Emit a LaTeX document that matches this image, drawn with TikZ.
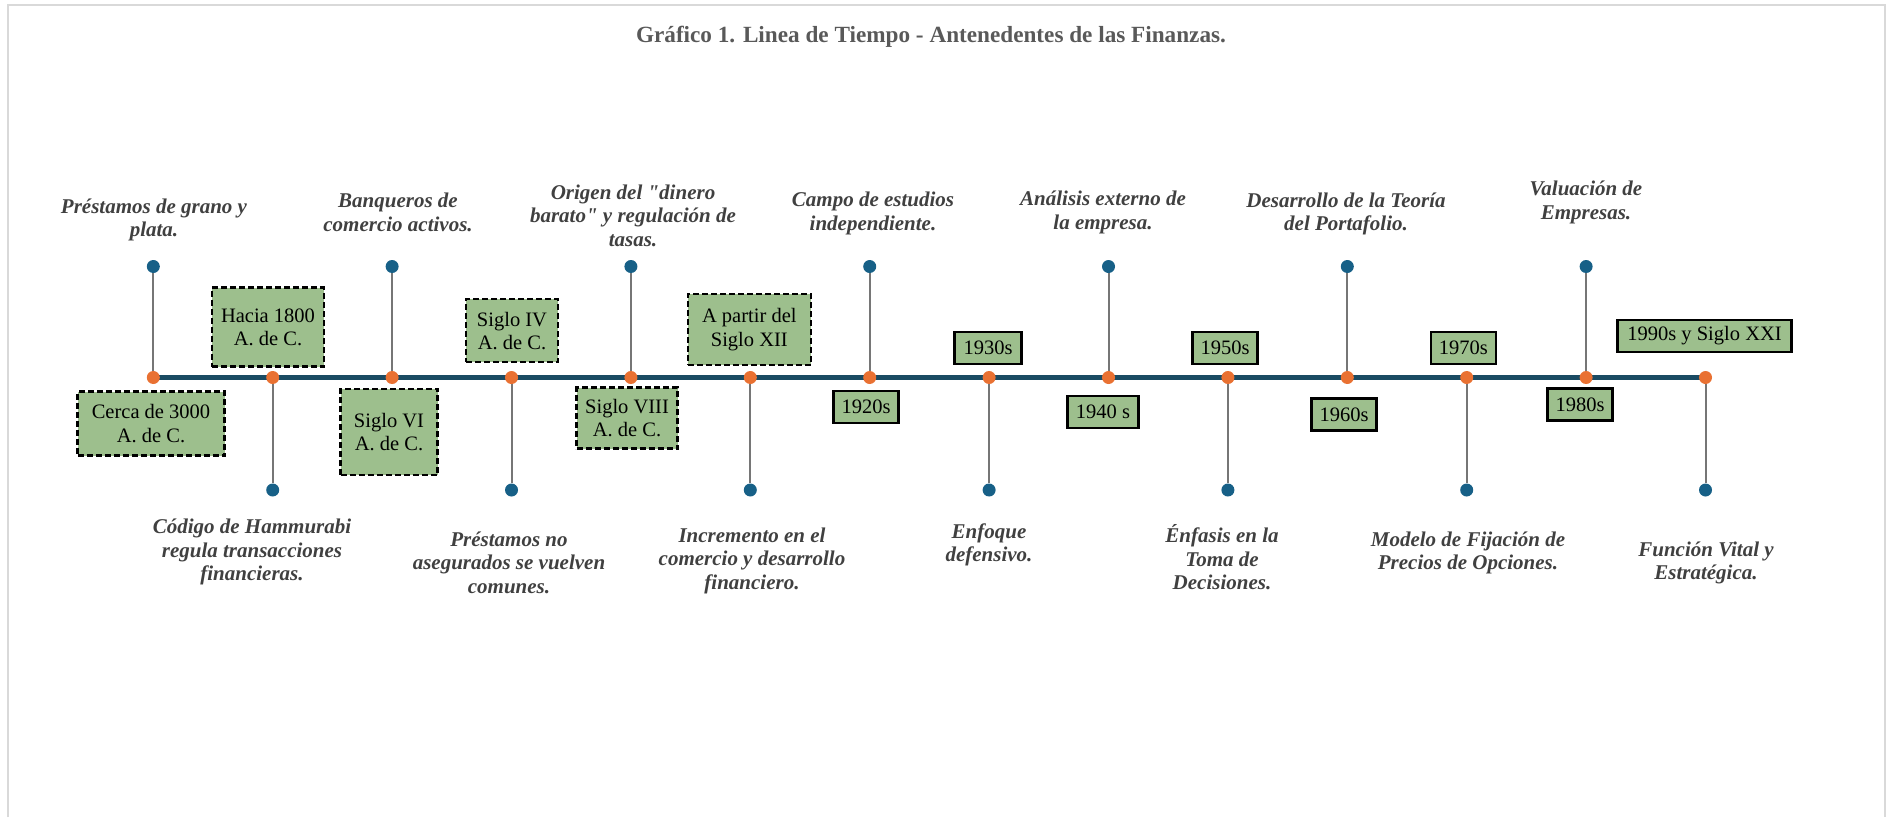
\documentclass[tikz,border=0pt]{standalone}
\usepackage{fontspec}
\setmainfont{Liberation Serif}
\usepackage{xcolor}

\definecolor{ejeazul}{HTML}{1A4B63}
\definecolor{azulpunto}{HTML}{176087}
\definecolor{naranja}{HTML}{E97132}
\definecolor{gristallo}{HTML}{767676}
\definecolor{gristexto}{HTML}{404040}
\definecolor{gristitulo}{HTML}{595959}
\definecolor{verdecaja}{HTML}{9DBF8D}
\definecolor{grismarco}{HTML}{D9D9D9}

\tikzset{
  marco/.style={draw=grismarco,line width=2pt},
  titulo/.style={text=gristitulo,font=\fontsize{23.2}{26}\selectfont\bfseries,anchor=base},
  eje/.style={draw=ejeazul,line width=4.5pt},
  tallo/.style={draw=gristallo,line width=2pt},
  hito/.style={circle,fill=naranja,inner sep=0pt,minimum size=13pt},
  extremo/.style={circle,fill=azulpunto,inner sep=0pt,minimum size=13pt},
  evento/.style={text=gristexto,font=\fontsize{21}{23.4}\selectfont\bfseries\itshape,align=center},
  fechaac/.style={draw=black,fill=verdecaja,line width=2.2pt,dash pattern=on 6pt off 3pt,
    inner sep=0pt,align=center,font=\fontsize{20.5}{23.3}\selectfont},
  fechasig/.style={draw=black,fill=verdecaja,line width=2.2pt,inner sep=0pt,
    minimum width=65pt,minimum height=32pt,font=\fontsize{20.5}{23.3}\selectfont}
}

\begin{document}
\begin{tikzpicture}[x=1pt,y=-1pt]
        \useasboundingbox (0,0) rectangle (1887,817);
        % marco
        \draw[marco] (8,817) -- (8,5) -- (1885,5) -- (1885,817);
        % titulo
        \node[titulo] (titulo) at (931,42.7) {Gráfico 1. Linea de Tiempo - Antenedentes de las Finanzas.};
        % eje
        \foreach \i in {0,...,13}
        \coordinate (t\i) at ({153.3+119.4*\i},377.5);
        \draw[eje] (t0) -- (t13);
        % tallos arriba
        \foreach \i in {0,2,...,12}{
        \node[extremo] (b\i) at ([yshift=111pt]t\i) {};
        \draw[tallo] (b\i) -- (t\i);
        }
        % tallos abajo
        \foreach \i in {1,3,...,13}{
        \node[extremo] (b\i) at ([yshift=-112.5pt]t\i) {};
        \draw[tallo] (b\i) -- (t\i);
        }
        % hitos
        \foreach \i in {0,...,13}
        \node[hito] (o\i) at (t\i) {};
        % eventos arriba
        \node[evento] (e0) at (154,220) {Préstamos de grano y\\plata.};
        \node[evento] (e2) at (398,212.3) {Banqueros de\\comercio activos.};
        \node[evento] (e4) at (633,215.5) {Origen del \textquotedbl dinero\\barato\textquotedbl\ y regulación de\\tasas.};
        \node[evento] (e6) at (873,213.3) {Campo de estudios\\independiente.};
        \node[evento] (e8) at (1103,212.3) {Análisis externo de\\la empresa.};
        \node[evento] (e10) at (1346,214) {Desarrollo de la Teoría\\del Portafolio.};
        \node[evento] (e12) at (1586,202.5) {Valuación de\\Empresas.};
        % eventos abajo
        \node[evento] (e1) at (252,552) {Código de Hammurabi\\regula transacciones\\financieras.};
        \node[evento] (e3) at (509,562.5) {Préstamos no\\asegurados se vuelven\\comunes.};
        \node[evento] (e5) at (752,560.8) {Incremento en el\\comercio y desarrollo\\financiero.};
        \node[evento] (e7) at (989,545) {Enfoque\\defensivo.};
        \node[evento] (e9) at (1222,557.5) {Énfasis en la\\Toma de\\Decisiones.};
        \node[evento] (e11) at (1468,552.8) {Modelo de Fijación de\\Precios de Opciones.};
        \node[evento] (e13) at (1706,562.8) {Función Vital y\\Estratégica.};
        % fechas antes de Cristo
        \node[fechaac,minimum width=147pt,minimum height=64pt] (f0) at (151,423.5) {Cerca de 3000\\A. de C.};
        \node[fechaac,minimum width=112pt,minimum height=79pt] (f1) at (268,327) {Hacia 1800\\A. de C.};
        \node[fechaac,minimum width=97pt,minimum height=86pt] (f2) at (389,432) {Siglo VI\\A. de C.};
        \node[fechaac,minimum width=92pt,minimum height=63pt] (f3) at (512,330.7) {Siglo IV\\A. de C.};
        \node[fechaac,minimum width=101pt,minimum height=61pt] (f4) at (627,418) {Siglo VIII\\A. de C.};
        \node[fechaac,minimum width=123pt,minimum height=71pt] (f5) at (749.3,329.7) {A partir del\\Siglo XII};
        % fechas siglo XX
        \node[fechasig] (f6) at (866,406.7) {1920s};
        \node[fechasig,minimum width=67pt] (f7) at (988,348) {1930s};
        \node[fechasig,minimum width=71pt] (f8) at (1103,412) {1940 s};
        \node[fechasig] (f9) at (1225,348) {1950s};
        \node[fechasig] (f10) at (1344,414.5) {1960s};
        \node[fechasig] (f11) at (1463.3,348) {1970s};
        \node[fechasig] (f12) at (1580,404.5) {1980s};
        \node[fechasig,minimum width=174pt] (f13) at (1704.5,336) {1990s y Siglo XXI};
\end{tikzpicture}
\end{document}
